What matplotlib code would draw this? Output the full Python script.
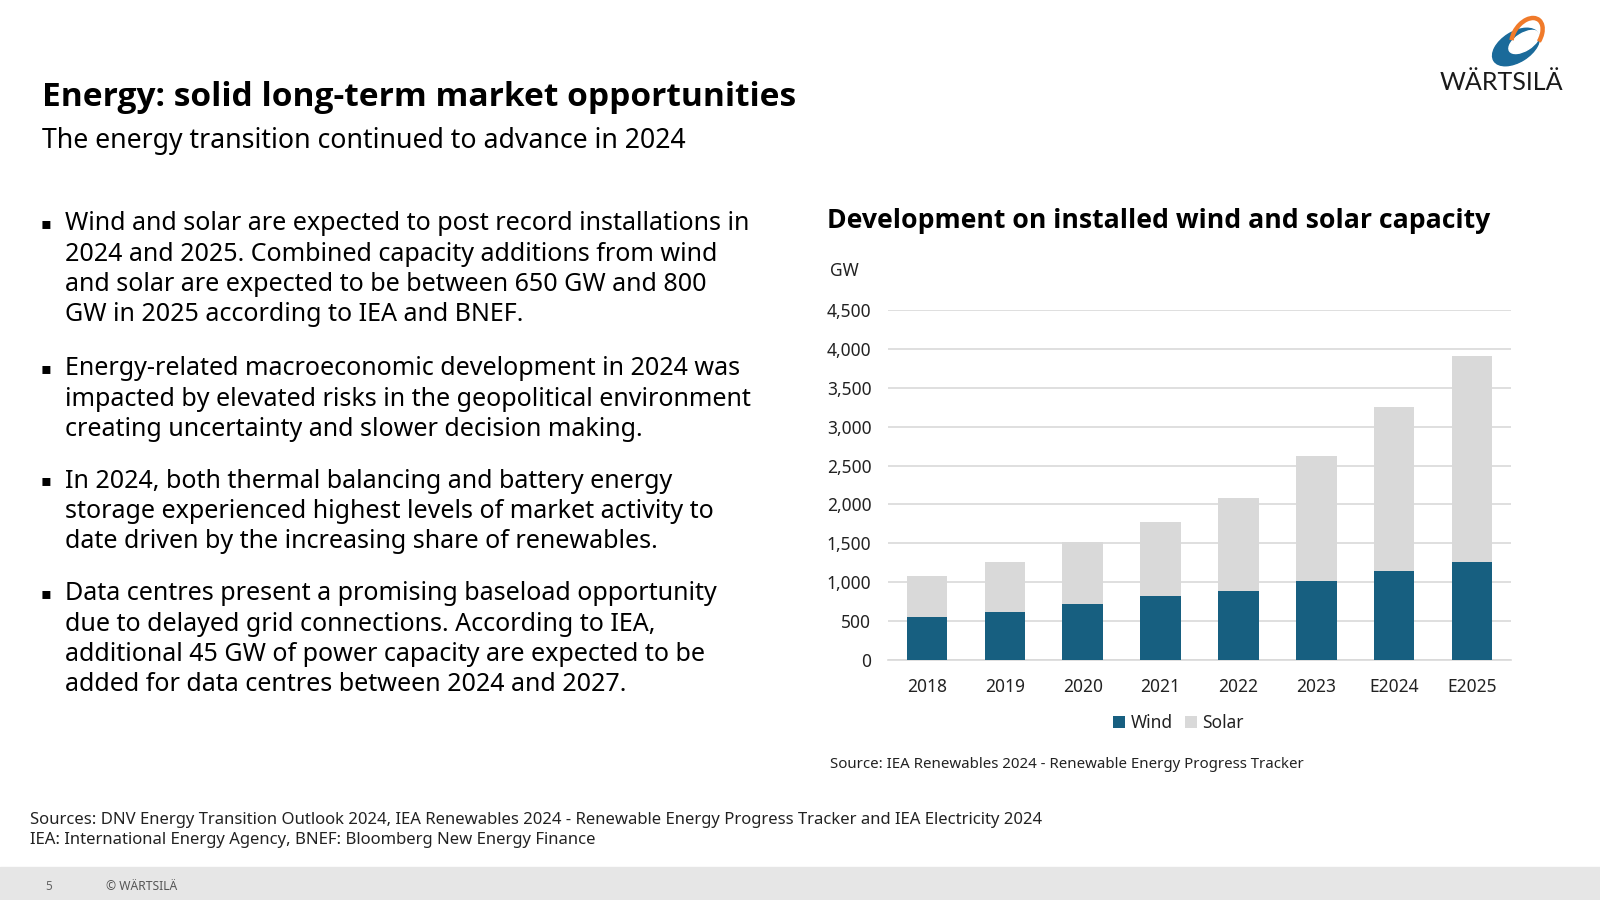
import matplotlib
matplotlib.use("Agg")
import matplotlib.pyplot as plt
from matplotlib.patches import Ellipse, Arc, Rectangle
import numpy as np

# ---------------- data ----------------
categories = ["2018", "2019", "2020", "2021", "2022", "2023", "E2024", "E2025"]
wind = [556, 616, 723, 817, 890, 1010, 1138, 1258]
solar = [518, 638, 792, 955, 1190, 1609, 2115, 2650]
yticks = [0, 500, 1000, 1500, 2000, 2500, 3000, 3500, 4000, 4500]

title = "Energy: solid long-term market opportunities"
subtitle = "The energy transition continued to advance in 2024"
bullets = [
    ["Wind and solar are expected to post record installations in",
     "2024 and 2025. Combined capacity additions from wind",
     "and solar are expected to be between 650 GW and 800",
     "GW in 2025 according to IEA and BNEF."],
    ["Energy-related macroeconomic development in 2024 was",
     "impacted by elevated risks in the geopolitical environment",
     "creating uncertainty and slower decision making."],
    ["In 2024, both thermal balancing and battery energy",
     "storage experienced highest levels of market activity to",
     "date driven by the increasing share of renewables."],
    ["Data centres present a promising baseload opportunity",
     "due to delayed grid connections. According to IEA,",
     "additional 45 GW of power capacity are expected to be",
     "added for data centres between 2024 and 2027."],
]
chart_title = "Development on installed wind and solar capacity"
chart_source = "Source: IEA Renewables 2024 - Renewable Energy Progress Tracker"
footer_sources = ["Sources: DNV Energy Transition Outlook 2024, IEA Renewables 2024 - Renewable Energy Progress Tracker and IEA Electricity 2024",
                  "IEA: International Energy Agency, BNEF: Bloomberg New Energy Finance"]

WIND_C = "#175f80"
SOLAR_C = "#d9d9d9"
FONT = ["Noto Sans", "DejaVu Sans"]
BOLD = ["Open Sans", "DejaVu Sans"]
plt.rcParams["font.family"] = FONT

W, H = 1600, 900
fig = plt.figure(figsize=(16, 9), dpi=100)
fig.patch.set_facecolor("white")

def fx(px):
    return px / W

def fy(py):
    return 1 - py / H

# titles
fig.text(fx(42), fy(97), title, fontsize=24.1, fontweight="bold", va="center", ha="left",
         color="black", family=BOLD)
fig.text(fx(42), fy(141), subtitle, fontsize=19.2, va="center", ha="left", color="black")

# bullets
para_starts = [224, 369, 481, 594]
line_h = 30.3
for start, lines in zip(para_starts, bullets):
    fig.text(fx(41), fy(start), "\u25aa", fontsize=11.5, va="center", ha="left", color="black",
             family=["DejaVu Sans"])
    for i, ln in enumerate(lines):
        fig.text(fx(65), fy(start + i * line_h), ln, fontsize=18.05, va="center", ha="left", color="black")

# chart
ax = fig.add_axes([fx(888), fy(660), fx(1511) - fx(888), (660 - 310) / H])
x = np.arange(len(categories))
ax.bar(x, wind, width=0.52, color=WIND_C, label="Wind", zorder=3)
ax.bar(x, solar, width=0.52, bottom=wind, color=SOLAR_C, label="Solar", zorder=3)
ax.set_xlim(-0.5, len(categories) - 0.5)
ax.set_ylim(0, 4500)
ax.set_yticks(yticks)
ax.set_yticklabels([f"{v:,}" for v in yticks])
ax.set_xticks(x)
ax.set_xticklabels(categories)
ax.yaxis.grid(True, color="#d9d9d9", linewidth=1.2, zorder=0)
ax.set_axisbelow(True)
for s in ["top", "right", "left"]:
    ax.spines[s].set_visible(False)
ax.spines["bottom"].set_color("#d9d9d9")
ax.spines["bottom"].set_linewidth(1.2)
ax.tick_params(axis="both", length=0, labelsize=12.5, colors="#222222")
ax.tick_params(axis="y", pad=12)
ax.tick_params(axis="x", pad=13)

leg = ax.legend(loc="upper center", bbox_to_anchor=(0.466, -0.11), ncol=2, frameon=False,
                fontsize=12.5, handlelength=0.7, handleheight=0.7, handletextpad=0.3,
                columnspacing=0.7, labelcolor="#222222")

fig.text(fx(827), fy(221), chart_title, fontsize=19.15, fontweight="bold", va="center", ha="left",
         color="black", family=BOLD)
fig.text(fx(830), fy(271), "GW", fontsize=12.5, va="center", ha="left", color="#222222")
fig.text(fx(830), fy(765), chart_source, fontsize=10.8, va="center", ha="left", color="#222222")

# footer sources
fig.text(fx(30), fy(820), footer_sources[0], fontsize=12.0, va="center", ha="left", color="#222222")
fig.text(fx(30), fy(840), footer_sources[1], fontsize=12.0, va="center", ha="left", color="#222222")

# footer band
fig.patches.append(Rectangle((0, 0), 1, 33 / H, transform=fig.transFigure, color="#e6e6e6", zorder=0))
fig.text(fx(45), fy(886), "5", fontsize=8.5, va="center", ha="left", color="#666666")
fig.text(fx(106), fy(886), "\u00a9 W\u00c4RTSIL\u00c4", fontsize=8.7, va="center", ha="left", color="#555555")

# logo
lx0, lx1, ly0, ly1 = 1430, 1580, 5, 100
lax = fig.add_axes([fx(lx0), fy(ly1), (lx1 - lx0) / W, (ly1 - ly0) / H])
lax.set_xlim(lx0, lx1)
lax.set_ylim(ly1, ly0)
lax.axis("off")
lax.add_patch(Ellipse((1516, 47), 52, 30, angle=-32, color="#1a6a9a", zorder=1))
lax.add_patch(Ellipse((1524, 42), 34, 17, angle=-32, color="white", zorder=2))
lax.add_patch(Arc((1527, 36), 40, 26, angle=-55, theta1=-140, theta2=80, color="#f07a2a", lw=3.2, zorder=3))
lax.text(1501, 82, "W\u00c4RTSIL\u00c4", fontsize=18, ha="center", va="center", color="#1a1a1a",
         family=["Lato", "DejaVu Sans"])

fig.savefig("out.png", dpi=100)
